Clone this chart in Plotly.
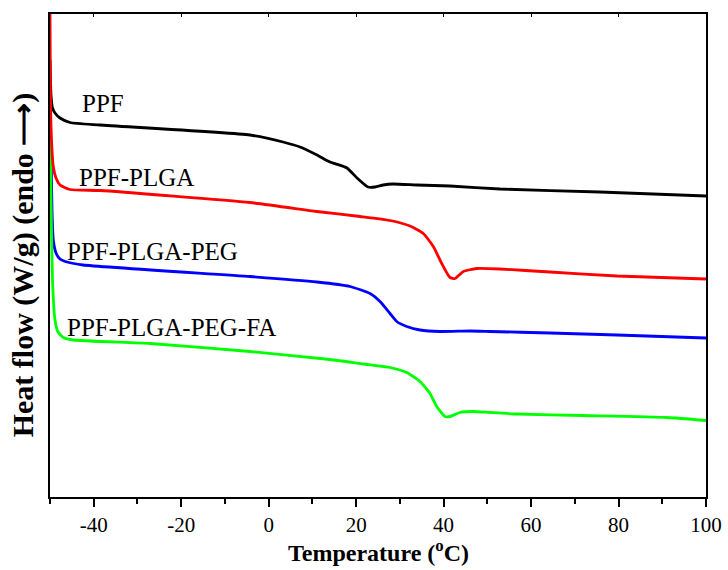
import plotly.graph_objects as go

# Temperature (°C) and heat flow (arbitrary W/g offset units)
ppf_t = [-50, -49.77, -49.43, -48.86, -47.71, -45.43, -38.57, -4.27, 3.28, 7.17, 11.05, 14.03,
         17.91, 20.20, 22.72, 24.32, 26.2, 28.43, 33.92, 41.46, 52.90, 75.76, 100]
ppf_h = [8.74, 8.04, 7.78, 7.68, 7.58, 7.49, 7.44, 7.24, 7.10, 7.00, 6.84, 6.70,
         6.58, 6.38, 6.20, 6.20, 6.24, 6.26, 6.24, 6.22, 6.16, 6.10, 6.02]

plga_t = [-50, -49.89, -49.66, -49.25, -48.63, -47.71, -45.43, -38.57, -4.27, 10.98, 20.89, 27.75,
          32.32, 35.36, 37.65, 39.57, 41.46, 42.61, 44.51, 47.57, 52.90, 64.33, 79.65, 100]
plga_h = [9.66, 7.94, 7.14, 6.61, 6.38, 6.24, 6.15, 6.13, 5.89, 5.71, 5.61, 5.53,
          5.42, 5.27, 5.01, 4.67, 4.39, 4.37, 4.51, 4.57, 4.56, 4.50, 4.42, 4.36]

peg_t = [-50, -49.77, -49.54, -49.25, -48.63, -47.71, -46.11, -42.45, -4.27, 11.05, 18.60, 23.17,
         25.46, 27.75, 29.28, 31.56, 34.61, 39.18, 46.04, 50.61, 64.33, 79.65, 100]
peg_h = [7.94, 6.94, 5.74, 5.14, 4.88, 4.76, 4.70, 4.64, 4.41, 4.30, 4.21, 4.07,
         3.91, 3.67, 3.51, 3.41, 3.34, 3.31, 3.32, 3.31, 3.28, 3.24, 3.18]

fa_t = [-50, -49.77, -49.43, -48.86, -48.17, -46.96, -44.67, -27.13, -4.27, 14.03, 21.64, 27.75,
        31.56, 34.61, 36.89, 38.42, 40.32, 41.46, 43.75, 46.79, 50.61, 56.71, 71.88, 91.02, 100]
fa_h = [7.60, 5.94, 4.34, 3.54, 3.30, 3.19, 3.14, 3.07, 2.91, 2.75, 2.66, 2.59,
        2.49, 2.31, 2.07, 1.81, 1.61, 1.61, 1.69, 1.71, 1.69, 1.66, 1.63, 1.59, 1.53]

labels = ["PPF", "PPF-PLGA", "PPF-PLGA-PEG", "PPF-PLGA-PEG-FA"]
label_t = [-43.1, -43.8, -46.6, -46.6]
label_h = [7.88, 6.40, 4.92, 3.40]

x_ticks = [-40, -20, 0, 20, 40, 60, 80, 100]
x_ticktext = ["-40", "-20", "0", "20", "40", "60", "80", "100"]

SERIF = "Liberation Serif"

series = [
    (ppf_t, ppf_h, "#000000", labels[0]),
    (peg_t, peg_h, "#0000ff", labels[2]),
    (fa_t, fa_h, "#00ff00", labels[3]),
    (plga_t, plga_h, "#ff0000", labels[1]),
]

fig = go.Figure()
for t, h, c, name in series:
    fig.add_trace(go.Scatter(x=t, y=h, mode="lines", name=name, cliponaxis=True,
                             line=dict(color=c, width=2.8, shape="spline", smoothing=0.5)))

for txt, lx, ly in zip(labels, label_t, label_h):
    fig.add_annotation(x=lx, y=ly, text=txt, showarrow=False, xanchor="left", yanchor="middle",
                       font=dict(family=SERIF, size=25, color="#000"))

# axis titles
fig.add_annotation(xref="paper", yref="paper", x=0.5, y=-0.076, xanchor="center", yanchor="top",
                   text="<b>Temperature (<sup>o</sup>C)</b>", showarrow=False,
                   font=dict(family=SERIF, size=24, color="#000"))
fig.add_annotation(xref="paper", yref="paper", x=-0.012, y=0.48, xanchor="right", yanchor="middle",
                   text="<b>Heat flow (W/g) (endo ⟶)</b>", showarrow=False, textangle=-90,
                   font=dict(family=SERIF, size=30, color="#000"))

fig.update_layout(
    width=728, height=570,
    margin=dict(l=50, r=22, t=14, b=73),
    plot_bgcolor="white", paper_bgcolor="white",
    showlegend=False,
    font=dict(family=SERIF, color="#000"),
    xaxis=dict(range=[-50, 100], tickvals=x_ticks, ticktext=x_ticktext, ticks="outside",
               ticklen=8, tickwidth=1.8, automargin=False,
               tickcolor="#000", showline=True, linecolor="#000", linewidth=2,
               showgrid=False, zeroline=False,
               minor=dict(dtick=10, ticks="outside", ticklen=5, tickwidth=1.8, tickcolor="#000"),
               tickfont=dict(family=SERIF, size=21, color="#000")),
    xaxis2=dict(range=[-50, 100], overlaying="x", side="top", anchor="y", automargin=False,
                tickvals=x_ticks, ticks="inside", ticklen=3, tickcolor="#000",
                showticklabels=False, showline=True, linecolor="#000", linewidth=2,
                showgrid=False, zeroline=False),
    yaxis=dict(range=[0, 9.66], showticklabels=False, ticks="", showline=True, mirror=True,
               automargin=False,
               linecolor="#000", linewidth=2, showgrid=False, zeroline=False),
)
fig.add_trace(go.Scatter(x=[-50], y=[0], xaxis="x2", mode="markers", marker=dict(opacity=0),
                         hoverinfo="skip", showlegend=False))

fig.write_html("out.html", config={"displayModeBar": False},
               post_script="document.body.style.margin='0';document.body.style.overflow='hidden';")
